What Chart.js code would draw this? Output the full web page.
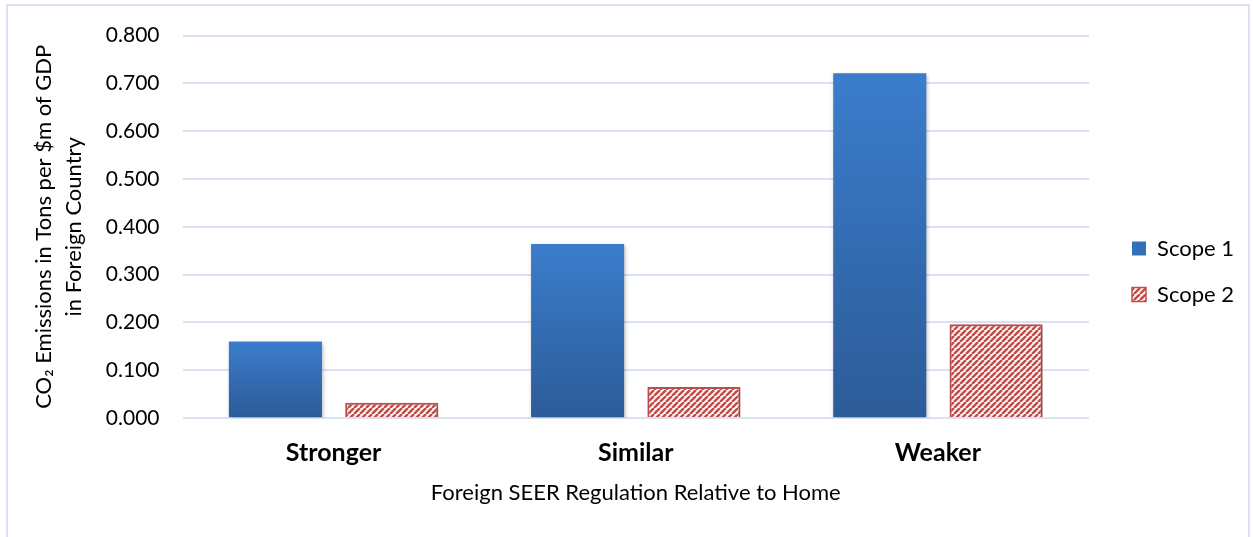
<!DOCTYPE html>
<html lang="en">
<head>
<meta charset="UTF-8">
<title>CO2 Emissions by Foreign SEER Regulation</title>
<script src="https://cdn.jsdelivr.net/npm/chart.js"></script>
<style>
    body {
        margin: 0;
        background: #ffffff;
        font-family: Lato, 'Open Sans', sans-serif;
    }
    .frame {
        position: absolute;
        left: 6px;
        top: 4px;
        width: 1244px;
        height: 540px;
        border: 2px solid #d9e2f1;
        box-sizing: border-box;
    }
    .chart-box {
        position: absolute;
        left: 0;
        top: 0;
        width: 1253px;
        height: 537px;
    }
</style>
</head>
<body>
<div class="frame"></div>
<div class="chart-box"><canvas id="co2Chart" width="1253" height="537"></canvas></div>

<script>
    // valores
    const categories = ['Stronger', 'Similar', 'Weaker'];
    const scope1 = [0.160, 0.364, 0.721];
    const scope2 = [0.032, 0.065, 0.196];
    const yTicks = ['0.000', '0.100', '0.200', '0.300', '0.400', '0.500', '0.600', '0.700', '0.800'];
    const seriesNames = ['Scope 1', 'Scope 2'];

    const RED = '#c0504d';
    const BLUE_TOP = '#3b7dcc';
    const BLUE_BOTTOM = '#2c5b98';

    // padrão listrado da Scope 2
    function makeStripes() {
        const size = 6;
        const c = document.createElement('canvas');
        c.width = size;
        c.height = size;
        const g = c.getContext('2d');
        g.fillStyle = '#ffffff';
        g.fillRect(0, 0, size, size);
        g.strokeStyle = RED;
        g.lineWidth = 2.6;
        g.beginPath();
        for (let k = -1; k <= 1; k++) {
            g.moveTo(k * size, size);
            g.lineTo(k * size + size, 0);
        }
        g.stroke();
        return g.createPattern(c, 'repeat');
    }
    const stripes = makeStripes();

    function blueGradient(context) {
        const chart = context.chart;
        if (!chart.chartArea || context.dataIndex === undefined) return BLUE_TOP;
        const y = chart.scales.y;
        const v = context.dataset.data[context.dataIndex];
        const grad = chart.ctx.createLinearGradient(0, y.getPixelForValue(v), 0, y.getPixelForValue(0));
        grad.addColorStop(0, BLUE_TOP);
        grad.addColorStop(1, BLUE_BOTTOM);
        return grad;
    }

    const shadowPlugin = {
        id: 'barShadow',
        beforeDatasetsDraw(chart) {
            const ctx = chart.ctx;
            ctx.save();
            ctx.shadowColor = 'rgba(0,0,0,0.28)';
            ctx.shadowBlur = 4;
            ctx.shadowOffsetX = 1;
            ctx.shadowOffsetY = 2;
        },
        afterDatasetsDraw(chart) {
            chart.ctx.restore();
        }
    };

    // afasta a legenda da área do gráfico
    const legendShift = {
        id: 'legendShift',
        afterLayout(chart) {
            const lg = chart.legend;
            lg.left += 19;
            lg.right += 19;
            lg.top += 11;
            lg.bottom += 11;
        }
    };

    const ctx = document.getElementById('co2Chart').getContext('2d');
    new Chart(ctx, {
        type: 'bar',
        data: {
            labels: categories,
            datasets: [
                {
                    label: seriesNames[0],
                    data: scope1,
                    backgroundColor: blueGradient,
                    borderWidth: 0,
                    categoryPercentage: 0.77,
                    barPercentage: 0.8
                },
                {
                    label: seriesNames[1],
                    data: scope2,
                    backgroundColor: stripes,
                    borderColor: RED,
                    borderWidth: 2,
                    categoryPercentage: 0.77,
                    barPercentage: 0.8
                }
            ]
        },
        plugins: [shadowPlugin, legendShift],
        options: {
            responsive: false,
            animation: false,
            devicePixelRatio: 1,
            layout: {
                padding: { left: 29, right: 28, top: 17, bottom: 33 }
            },
            plugins: {
                legend: {
                    position: 'right',
                    align: 'center',
                    labels: {
                        color: '#000',
                        font: { family: 'Lato', size: 22 },
                        boxWidth: 14,
                        boxHeight: 14,
                        padding: 24,
                        generateLabels(chart) {
                            return chart.data.datasets.map((ds, i) => ({
                                text: ds.label,
                                fillStyle: i === 0 ? '#3270bb' : stripes,
                                strokeStyle: i === 0 ? '#3270bb' : RED,
                                lineWidth: i === 0 ? 0 : 1.5,
                                fontColor: '#000',
                                datasetIndex: i
                            }));
                        }
                    }
                },
                tooltip: { enabled: false }
            },
            scales: {
                x: {
                    grid: { display: false, drawTicks: false },
                    border: { display: false },
                    ticks: {
                        color: '#000',
                        padding: 22,
                        font: { family: 'Lato', size: 25, weight: 'bold', lineHeight: 1 }
                    },
                    title: {
                        display: true,
                        text: 'Foreign SEER Regulation Relative to Home',
                        color: '#000',
                        font: { family: 'Lato', size: 22, lineHeight: 1 },
                        padding: { top: -5, bottom: 0 }
                    }
                },
                y: {
                    min: 0,
                    max: 0.8,
                    border: { display: false },
                    grid: {
                        color: '#d9e2f3',
                        lineWidth: 2,
                        drawTicks: false
                    },
                    ticks: {
                        stepSize: 0.1,
                        color: '#000',
                        padding: 23,
                        font: { family: 'Lato', size: 21 },
                        callback: (value, i) => yTicks[i]
                    },
                    title: {
                        display: true,
                        text: ['CO₂ Emissions in Tons per $m of GDP', 'in Foreign Country'],
                        color: '#000',
                        font: { family: 'Lato', size: 22, lineHeight: 1.36 },
                        padding: { top: 0, bottom: -6 }
                    }
                }
            }
        }
    });
</script>
</body>
</html>
